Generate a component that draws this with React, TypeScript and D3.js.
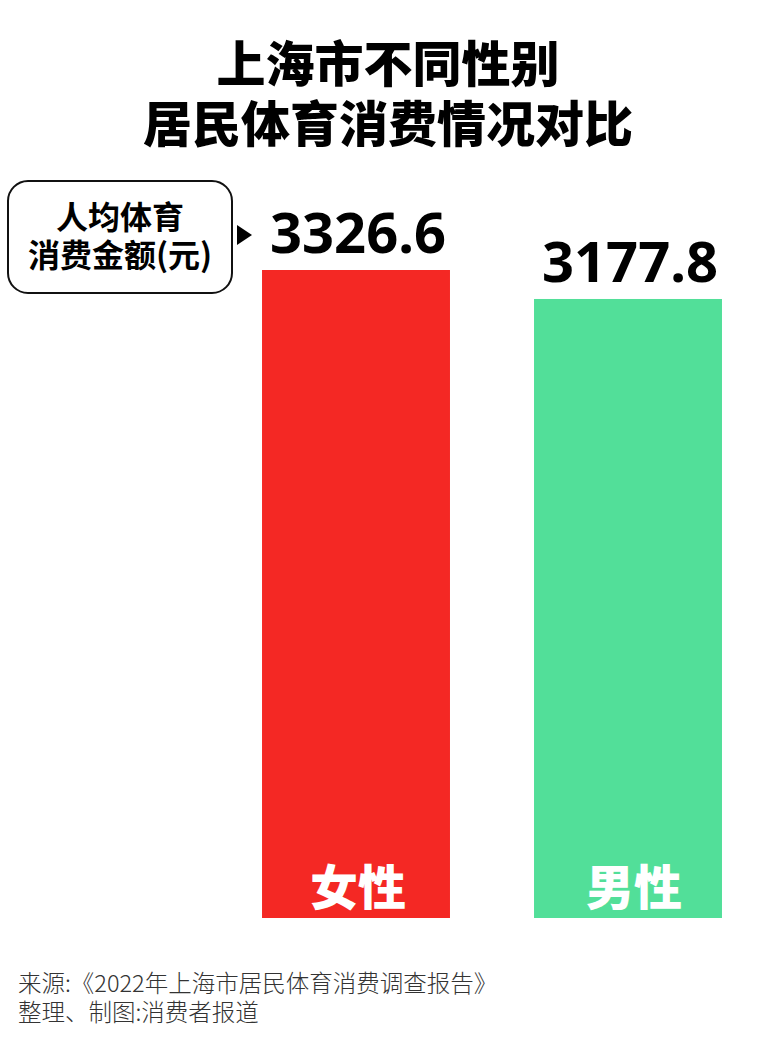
import { useEffect, useRef } from 'react';
import * as d3 from 'd3';

const W = 762;
const H = 1046;

const categories = ['女性', '男性'];
const values = [3326.6, 3177.8];
const colors = ['#F42824', '#52DF99'];

const titleLines = ['上海市不同性别', '居民体育消费情况对比'];
const calloutLines = ['人均体育', '消费金额(元)'];
const footerLines = ['来源:《2022年上海市居民体育消费调查报告》', '整理、制图:消费者报道'];

const CJK = '"Noto Sans CJK SC", "Noto Sans", sans-serif';

export default function App() {
  const svgRef = useRef<SVGSVGElement>(null);

  useEffect(() => {
    if (!svgRef.current) return;
    const svg = d3.select(svgRef.current);
    svg.selectAll('*').remove();

    svg.append('rect').attr('width', W).attr('height', H).attr('fill', '#fff');

    // 标题
    svg.append('g')
      .selectAll('text')
      .data(titleLines)
      .enter()
      .append('text')
      .attr('x', 388)
      .attr('y', (_d, i) => 82 + i * 60)
      .attr('text-anchor', 'middle')
      .attr('font-family', CJK)
      .attr('font-weight', 900)
      .attr('font-size', 49)
      .attr('fill', '#000')
      .text(d => d);

    const x = d3.scaleBand<string>()
      .domain(categories)
      .range([220, 764])
      .paddingInner(0.309)
      .paddingOuter(0.1545);

    const y = d3.scaleLinear()
      .domain([0, d3.max(values) as number])
      .range([918, 270]);

    const data = categories.map((c, i) => ({ name: c, value: values[i], color: colors[i] }));

    const bars = svg.append('g')
      .selectAll('g')
      .data(data)
      .enter()
      .append('g');

    bars.append('rect')
      .attr('x', d => x(d.name) as number)
      .attr('y', d => y(d.value))
      .attr('width', x.bandwidth())
      .attr('height', d => y(0) - y(d.value))
      .attr('fill', d => d.color);

    // 数值
    bars.append('text')
      .attr('x', d => (x(d.name) as number) + x.bandwidth() / 2 + 2)
      .attr('y', d => y(d.value) - 17)
      .attr('text-anchor', 'middle')
      .attr('font-family', '"Noto Sans", sans-serif')
      .attr('font-weight', 700)
      .attr('font-size', 56)
      .attr('fill', '#000')
      .text(d => d.value.toFixed(1));

    // 类别
    bars.append('text')
      .attr('x', (d, i) => (x(d.name) as number) + x.bandwidth() / 2 + 2 + i * 4)
      .attr('y', y(0) - 13)
      .attr('text-anchor', 'middle')
      .attr('font-family', CJK)
      .attr('font-weight', 900)
      .attr('font-size', 48)
      .attr('fill', '#fff')
      .text(d => d.name);

    // 单位标注框
    const callout = svg.append('g');
    callout.append('rect')
      .attr('x', 8)
      .attr('y', 181)
      .attr('width', 224)
      .attr('height', 112)
      .attr('rx', 20)
      .attr('fill', '#fff')
      .attr('stroke', '#111')
      .attr('stroke-width', 2);
    callout.selectAll('text')
      .data(calloutLines)
      .enter()
      .append('text')
      .attr('x', 120)
      .attr('y', (_d, i) => 229 + i * 38)
      .attr('text-anchor', 'middle')
      .attr('font-family', CJK)
      .attr('font-weight', 700)
      .attr('font-size', 32)
      .attr('fill', '#000')
      .text(d => d);
    callout.append('path')
      .attr('d', 'M237,225 L252,235 L237,245 Z')
      .attr('fill', '#000');

    // 来源
    svg.append('g')
      .selectAll('text')
      .data(footerLines)
      .enter()
      .append('text')
      .attr('x', 18)
      .attr('y', (_d, i) => 992 + i * 29)
      .attr('font-family', CJK)
      .attr('font-weight', 300)
      .attr('font-size', 23.5)
      .attr('fill', '#333')
      .text(d => d);
  }, []);

  return (
    <svg
      ref={svgRef}
      width={W}
      height={H}
      viewBox={`0 0 ${W} ${H}`}
      style={{ position: 'absolute', left: 0, top: 0, display: 'block' }}
    />
  );
}
